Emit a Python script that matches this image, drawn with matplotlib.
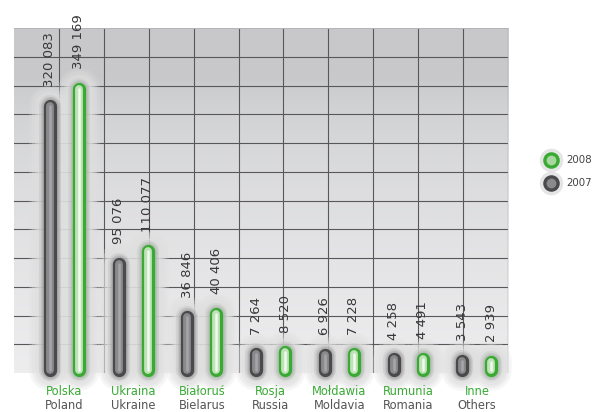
import numpy as np
import matplotlib.pyplot as plt

# visitors by country, 2007 and 2008
countries_pl = ['Polska', 'Ukraina', 'Białoruś', 'Rosja', 'Mołdawia', 'Rumunia', 'Inne']
countries_en = ['Poland', 'Ukraine', 'Bielarus', 'Russia', 'Moldavia', 'Romania', 'Others']
vals_2007 = [320083, 95076, 36846, 7264, 6926, 4258, 3543]
vals_2008 = [349169, 110077, 40406, 8520, 7228, 4491, 2939]

W, H = 595, 412
GREEN = '#3aaa35'
TXT = '#444446'


def fmt(v):
    return '{:,}'.format(v).replace(',', ' ')


def px(x0, y0, x1, y1):
    # pixel box -> figure fraction
    return [x0 / W, 1 - y1 / H, (x1 - x0) / W, (y1 - y0) / H]


fig = plt.figure(figsize=(W / 100, H / 100), dpi=100)

# background panel: gradient + grid
bg = fig.add_axes(px(14, 28, 508, 373))
grad = np.linspace(0, 1, 200)[:, None]
top = np.array([0.785, 0.788, 0.795])
bot = np.array([0.93, 0.93, 0.935])
img = top + (bot - top) * np.clip((grad - 0.15) / 0.85, 0, 1) ** 0.6
img = np.repeat(img[:, None, :], 2, axis=1)
bg.imshow(img, extent=[0, 11, 0, 12], origin='upper', aspect='auto', zorder=0)
bg.set_xlim(0, 11)
bg.set_ylim(0, 12)
bg.set_xticks(np.arange(1, 11))
bg.set_yticks(np.arange(1, 12))
bg.grid(True, color='#58585a', lw=0.8)
bg.tick_params(length=0, labelbottom=False, labelleft=False)
for s in bg.spines.values():
    s.set_visible(False)
bg.axhline(12, color='#b4b4b6', lw=1.5, zorder=3)
bg.axvline(11, color='#a0a0a2', lw=1.0, zorder=3)

# bars on a power scale so small countries stay visible
p = 0.75
ax = fig.add_axes(px(14, 28, 508, 369.5))
ax.patch.set_alpha(0)
ax.set_yscale('function', functions=(lambda v: np.sign(v) * np.abs(v) ** p,
                                     lambda v: np.sign(v) * np.abs(v) ** (1 / p)))
ax.set_ylim(0, 453000)
ax.set_xlim(-0.733, 6.452)
ax.axis('off')

x = np.arange(len(countries_pl))
off = 0.21
kw = dict(solid_capstyle='round', clip_on=False)


def pill(xc, v, edge, fill, hi, shade):
    # soft shadow close to the bar
    for lw, a in [(16, 0.15), (14, 0.22), (12, 0.3)]:
        ax.plot([xc, xc], [0, v], color=shade, lw=lw, alpha=a, zorder=2, **kw)
    ax.plot([xc, xc], [0, v], color=edge, lw=9.6, zorder=3, **kw)
    ax.plot([xc, xc], [0, v], color=fill, lw=5.6, zorder=4, **kw)
    ax.plot([xc, xc], [0, v], color=hi, lw=1.8, zorder=5, **kw)


# light haze around the bars hides the grid nearby
for i in x:
    for xc, v in [(i - off, vals_2007[i]), (i + off, vals_2008[i])]:
        for lw, a in [(30, 0.25), (26, 0.35), (22, 0.45), (18, 0.5)]:
            ax.plot([xc, xc], [0, v], color='#dfdfdf', lw=lw, alpha=a,
                    zorder=1, **kw)

for i in x:
    a, b = vals_2007[i], vals_2008[i]
    pill(i - off, a, '#4a4a4c', '#8a8a8c', '#a6a6a8', '#8a8a8a')
    pill(i + off, b, '#3aaa35', '#bfe2b8', '#f0f9ee', '#9aa89a')
    for xc, v in [(i - off, a), (i + off, b)]:
        ax.annotate(fmt(v), (xc, v), xytext=(0, 14), textcoords='offset points',
                    rotation=90, ha='center', va='bottom', fontsize=9.5,
                    color='#38383a', zorder=6, annotation_clip=False)
    ax.annotate(countries_pl[i], (i, 0), xytext=(0, -16),
                textcoords='offset points', ha='center', va='center',
                fontsize=8.3, color=GREEN, annotation_clip=False)
    ax.annotate(countries_en[i], (i, 0), xytext=(0, -26),
                textcoords='offset points', ha='center', va='center',
                fontsize=8.3, color='#555557', annotation_clip=False)

# legend
for yy, lab, edge, fill in [(160, '2008', GREEN, '#a8d8a0'),
                            (183, '2007', '#4a4a4c', '#8a8a8c')]:
    xf, yf = 551 / W, 1 - yy / H
    fig.lines.append(plt.Line2D([xf], [yf], transform=fig.transFigure, marker='o',
                                ms=17, color='#d4d4d4', alpha=0.6, mec='none'))
    fig.lines.append(plt.Line2D([xf], [yf], transform=fig.transFigure, marker='o',
                                ms=9.5, mfc=fill, mec=edge, mew=2.4))
    fig.text(566 / W, yf, lab, fontsize=7.4, color=TXT, va='center')

fig.savefig('out.png', dpi=100, facecolor='white')
